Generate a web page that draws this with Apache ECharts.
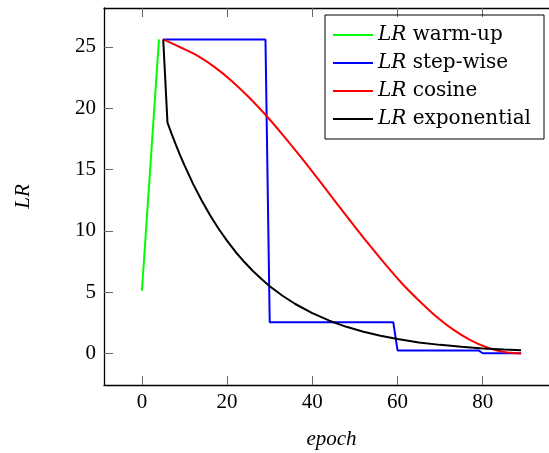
<!DOCTYPE html>
<html>
<head>
<meta charset="utf-8">
<style>
html, body {
  margin: 0;
  padding: 0;
  background-color: #FFF;
}
#chart {
  width: 549px;
  height: 453px;
}
</style>
<script src="https://cdn.jsdelivr.net/npm/echarts@6/dist/echarts.min.js"></script>
</head>
<body>
<div id="chart"></div>
<script>
// values
const warmupEpochs = [0, 1, 2, 3, 4]
const warmupLR = [5.12, 10.24, 15.36, 20.48, 25.6]

const stepEpochs = [5, 29, 30, 59, 60, 79, 80, 89]
const stepLR = [25.6, 25.6, 2.56, 2.56, 0.256, 0.256, 0.0256, 0.0256]

const cosineEpochs = [5, 9, 13, 17, 21, 25, 29, 33, 37, 41, 45, 49, 53, 57, 61, 65, 69, 73, 77, 81, 85, 89]
const cosineLR = [25.6, 24.96, 24.28, 23.36, 22.24, 20.93, 19.46, 17.85, 16.15, 14.38, 12.57, 10.78, 9.02, 7.33, 5.73, 4.33, 3.05, 1.97, 1.12, 0.5, 0.13, 0]

const expEpochs = [5, 6, 7, 8, 9, 10, 12, 14, 16, 18, 20, 22, 24, 26, 28, 30, 33, 36, 40, 44, 48, 52, 56, 60, 65, 70, 75, 80, 85, 89]
const expLR = [25.6, 18.82, 17.88, 16.98, 16.13, 15.33, 13.83, 12.49, 11.27, 10.17, 9.18, 8.28, 7.48, 6.75, 6.09, 5.49, 4.71, 4.04, 3.29, 2.68, 2.18, 1.78, 1.45, 1.18, 0.91, 0.71, 0.55, 0.42, 0.33, 0.27]

const xTicks = [0, 20, 40, 60, 80]
const yTicks = [0, 5, 10, 15, 20, 25]

const seriesNames = ['warm-up', 'step-wise', 'cosine', 'exponential']
const seriesColors = ['#00FF00', '#0000FF', '#FF0000', '#000000']
const seriesSmooth = [false, false, 0.3, false]

const zip = (xs, ys) => xs.map((x, i) => [x, ys[i]])
const seriesData = [
  zip(warmupEpochs, warmupLR),
  zip(stepEpochs, stepLR),
  zip(cosineEpochs, cosineLR),
  zip(expEpochs, expLR)
]

const serif = 'Liberation Serif'
const tickStyle = { show: true, inside: true, length: 9, lineStyle: { color: '#666', width: 1 } }
const frameLine = { show: true, onZero: false, lineStyle: { color: '#000', width: 1.3 } }

const chart = echarts.init(document.getElementById('chart'))

const option = {
  animation: false,
  grid: {
    left: 104,
    top: 8,
    width: 455,
    height: 377,
    containLabel: false,
    outerBoundsMode: 'none'
  },
  legend: {
    orient: 'vertical',
    left: 325,
    top: 15,
    padding: [8, 13, 8, 8],
    borderColor: '#000',
    borderWidth: 1,
    icon: 'rect',
    itemWidth: 40,
    itemHeight: 2,
    itemGap: 4,
    data: seriesNames,
    formatter: name => '{i|LR} ' + name,
    textStyle: {
      color: '#000',
      fontFamily: 'DejaVu Serif',
      fontSize: 20,
      lineHeight: 24,
      rich: {
        i: {
          fontStyle: 'italic',
          fontFamily: 'DejaVu Serif',
          fontSize: 20,
          lineHeight: 24
        }
      }
    }
  },
  xAxis: [
    {
      type: 'value',
      position: 'bottom',
      min: -8.9,
      max: 97.9,
      name: 'epoch',
      nameLocation: 'middle',
      nameGap: 44,
      nameTextStyle: { fontFamily: serif, fontStyle: 'italic', fontSize: 21, color: '#000' },
      axisLine: frameLine,
      axisTick: Object.assign({ customValues: xTicks }, tickStyle),
      axisLabel: { customValues: xTicks, margin: 7, fontFamily: serif, fontSize: 21, color: '#000' },
      splitLine: { show: false }
    },
    {
      type: 'value',
      position: 'top',
      min: -8.9,
      max: 97.9,
      axisLine: frameLine,
      axisTick: Object.assign({ customValues: xTicks }, tickStyle),
      axisLabel: { show: false },
      splitLine: { show: false }
    }
  ],
  yAxis: [
    {
      type: 'value',
      position: 'left',
      min: -2.56,
      max: 28.16,
      name: 'LR',
      nameLocation: 'middle',
      nameGap: 70,
      nameTextStyle: { fontFamily: serif, fontStyle: 'italic', fontSize: 21, color: '#000' },
      axisLine: frameLine,
      axisTick: Object.assign({ customValues: yTicks }, tickStyle),
      axisLabel: { customValues: yTicks, margin: 8, fontFamily: serif, fontSize: 21, color: '#000' },
      splitLine: { show: false }
    },
    {
      type: 'value',
      position: 'right',
      min: -2.56,
      max: 28.16,
      axisLine: { show: false, onZero: false },
      axisTick: Object.assign({ customValues: yTicks }, tickStyle),
      axisLabel: { show: false },
      splitLine: { show: false }
    }
  ],
  series: seriesNames.map((name, idx) => ({
    name: name,
    type: 'line',
    smooth: seriesSmooth[idx],
    showSymbol: false,
    color: seriesColors[idx],
    lineStyle: { color: seriesColors[idx], width: 2 },
    data: seriesData[idx]
  }))
}

chart.setOption(option)
</script>
</body>
</html>
